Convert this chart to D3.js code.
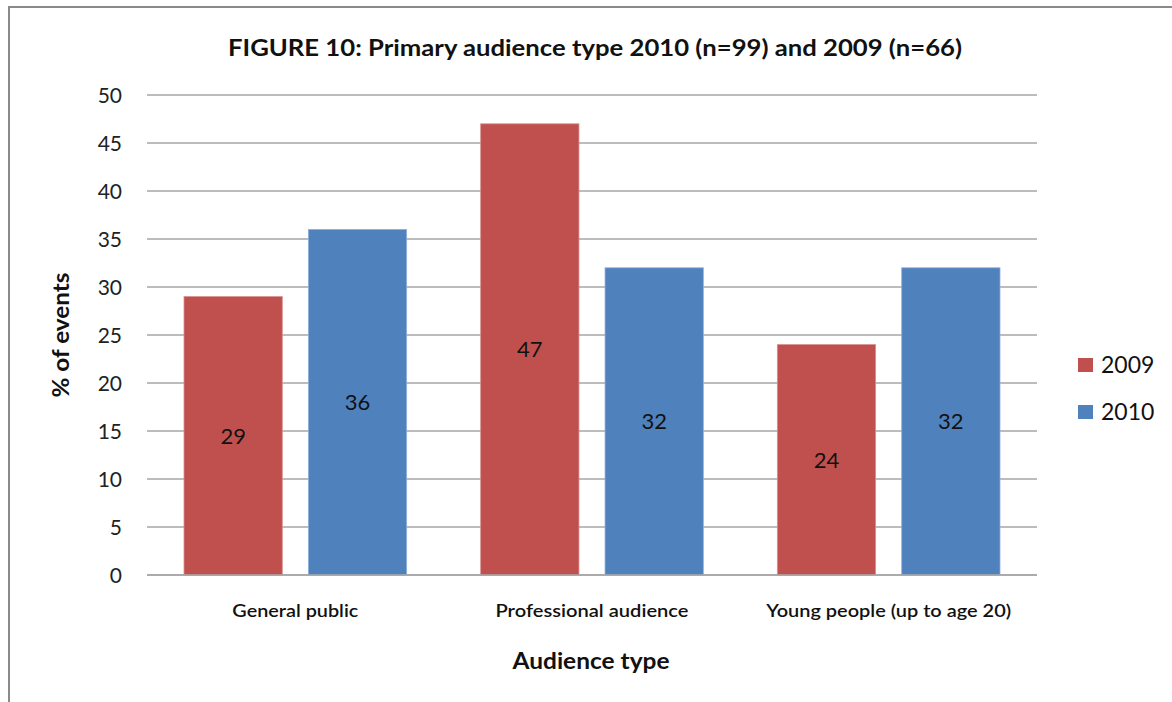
<!DOCTYPE html>
<html><head><meta charset="utf-8">
<script src="https://cdn.jsdelivr.net/npm/d3@7"></script>
<style>body{margin:0;background:#fff}svg{display:block}text{font-family:Lato,"Open Sans",sans-serif}</style>
</head><body>
<script>
const categories = ["General public","Professional audience","Young people (up to age 20)"];
const seriesNames = ["2009","2010"];
const values2009 = [29,47,24];
const values2010 = [36,32,32];
const yTicks = [0,5,10,15,20,25,30,35,40,45,50];
const colors = ["#C0504D","#4F81BD"];

(function(){
const W=1172,H=702;
const svg=d3.select("body").append("svg").attr("width",W).attr("height",H);
svg.append("rect").attr("x",9).attr("y",7).attr("width",W+20).attr("height",H+20)
  .attr("fill","#fff").attr("stroke","#8a8a8a").attr("stroke-width",2);

const pL=147,pR=1037,pT=95,pB=575;
const x0=d3.scaleBand().domain(categories).range([pL,pR]).paddingInner(0).paddingOuter(0);
const x1=d3.scaleBand().domain(seriesNames).range([37,x0.bandwidth()-37]).paddingInner(26/124);
const y=d3.scaleLinear().domain([0,50]).range([pB,pT]);

svg.append("g").selectAll("line").data(yTicks).join("line")
  .attr("x1",pL).attr("x2",pR).attr("y1",d=>y(d)).attr("y2",d=>y(d))
  .attr("stroke","#a6a6a6").attr("stroke-width",1.3);

const yAxis=svg.append("g").attr("transform",`translate(${pL},0)`)
  .call(d3.axisLeft(y).tickValues(yTicks).tickSize(0).tickPadding(25));
yAxis.select(".domain").remove();
yAxis.selectAll("text").attr("font-size",21).attr("fill","#222").attr("dy","0.36em");

const data=categories.map((c,i)=>({c,vals:[values2009[i],values2010[i]]}));
const g=svg.append("g").selectAll("g").data(data).join("g")
  .attr("transform",d=>`translate(${x0(d.c)},0)`);
g.selectAll("rect").data(d=>d.vals.map((v,j)=>({s:seriesNames[j],v,j}))).join("rect")
  .attr("x",d=>x1(d.s)).attr("width",x1.bandwidth())
  .attr("y",d=>y(d.v)).attr("height",d=>pB-y(d.v))
  .attr("fill",d=>colors[d.j]).attr("stroke",d=>d.j?"#8fb0dc":"#d9908e").attr("stroke-width",0.8);
g.selectAll("text").data(d=>d.vals.map((v,j)=>({s:seriesNames[j],v,j}))).join("text")
  .attr("x",d=>x1(d.s)+x1.bandwidth()/2).attr("y",d=>y(d.v/2))
  .attr("dy","0.36em").attr("text-anchor","middle").attr("font-size",22).attr("fill","#111")
  .text(d=>d.v);

svg.append("line").attr("x1",pL).attr("x2",pR).attr("y1",pB).attr("y2",pB)
  .attr("stroke","#a6a6a6").attr("stroke-width",1.3);

const catLen={"General public":126,"Professional audience":193,"Young people (up to age 20)":245};
const xAxis=svg.append("g").attr("transform",`translate(0,${pB})`)
  .call(d3.axisBottom(x0).tickSize(0).tickPadding(30));
xAxis.select(".domain").remove();
xAxis.selectAll("text").attr("font-size",17).attr("fill","#111").attr("font-weight",600)
  .attr("textLength",d=>catLen[d]).attr("lengthAdjust","spacingAndGlyphs");

svg.append("text").attr("x",595).attr("y",56).attr("text-anchor","middle")
  .attr("font-size",22).attr("font-weight","bold").attr("fill","#111")
  .attr("textLength",734).attr("lengthAdjust","spacingAndGlyphs")
  .text("FIGURE 10: Primary audience type 2010 (n=99) and 2009 (n=66)");
svg.append("text").attr("x",591).attr("y",669).attr("text-anchor","middle")
  .attr("font-size",22).attr("font-weight","bold").attr("fill","#111")
  .attr("textLength",157).attr("lengthAdjust","spacingAndGlyphs").text("Audience type");
svg.append("text").attr("transform","translate(69,335) rotate(-90)").attr("text-anchor","middle")
  .attr("font-size",22).attr("font-weight","bold").attr("fill","#111")
  .attr("textLength",125).attr("lengthAdjust","spacingAndGlyphs").text("% of events");

const leg=svg.append("g").selectAll("g").data(seriesNames).join("g")
  .attr("transform",(d,i)=>`translate(1078,${358+i*47})`);
leg.append("rect").attr("width",15).attr("height",14).attr("fill",(d,i)=>colors[i]);
leg.append("text").attr("x",23).attr("y",7).attr("dy","0.36em").attr("font-size",23).attr("fill","#111").text(d=>d);
})();
</script>
</body></html>
